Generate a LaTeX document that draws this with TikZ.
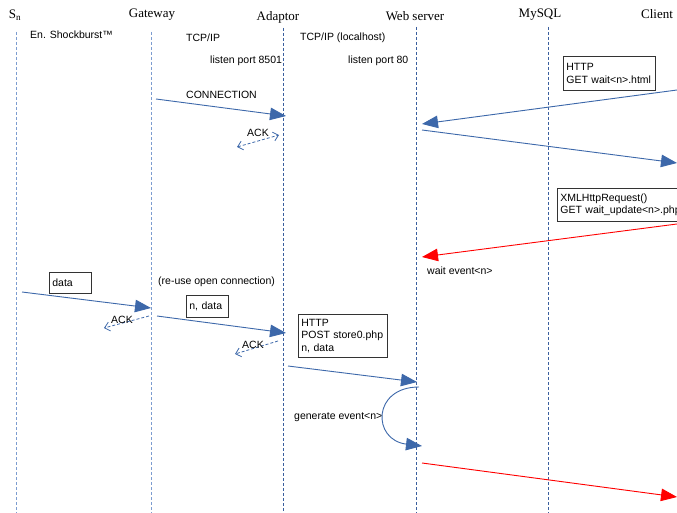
\documentclass[tikz,border=0pt]{standalone}
\usepackage{fontspec}
\setmainfont{Liberation Sans}
\newfontfamily\titlefont{Liberation Serif}
\usetikzlibrary{arrows.meta}
\definecolor{msgblue}{HTML}{3D68AA}
\definecolor{lifedark}{HTML}{3A5E9E}
\definecolor{lifelight}{HTML}{7C9CD0}
\definecolor{boxgray}{HTML}{333333}
\begin{document}
\begin{tikzpicture}[x=1pt,y=-1pt,
  title/.style={font=\titlefont\fontsize{13}{15}\selectfont, inner sep=0pt},
  lbl/.style={font=\fontsize{10.5}{12.5}\selectfont, inner sep=0pt, anchor=west},
  acklbl/.style={font=\fontsize{10.5}{12.5}\selectfont, inner sep=0pt},
  lifeline/.style={draw=lifedark, line width=0.8pt, dash pattern=on 3pt off 2pt},
  lifelinelt/.style={lifeline, draw=lifelight},
  msg/.style={draw=msgblue, line width=0.9pt, -{Triangle[length=16pt,width=12.5pt]}},
  redmsg/.style={msg, draw=red},
  ack/.style={draw=msgblue, line width=0.8pt, dash pattern=on 3pt off 2pt, -{Straight Barb[length=5pt,width=9pt]}},
  ackboth/.style={ack, {Straight Barb[length=5pt,width=9pt]}-{Straight Barb[length=5pt,width=9pt]}},
  msgbox/.style={draw=boxgray, line width=0.8pt, anchor=north west, align=left,
    font=\fontsize{10.5}{12.5}\selectfont, inner xsep=3pt, inner ysep=2pt}
]
\clip (0,0) rectangle (677,513);
\fill[white] (0,0) rectangle (677,513);

% titles
\node[title] (tS) at (15,15) {S\textsubscript{n}};
\node[title] (tGW) at (152,14.5) {Gateway};
\node[title] (tAD) at (278,17) {Adaptor};
\node[title] (tWS) at (415,16.5) {Web server};
\node[title] (tMY) at (540,14.5) {MySQL};
\node[title] (tCL) at (657,14.5) {Client};

% lifelines
\coordinate (sTop) at (16,32);   \coordinate (sBot) at (16,513);
\coordinate (gTop) at (151,32);  \coordinate (gBot) at (151,513);
\coordinate (aTop) at (283,28);  \coordinate (aBot) at (283,513);
\coordinate (wTop) at (416,27);  \coordinate (wBot) at (416,513);
\coordinate (mTop) at (548,27);  \coordinate (mBot) at (548,513);
\draw[lifelinelt] (sTop) -- (sBot);
\draw[lifelinelt] (gTop) -- (gBot);
\draw[lifeline] (aTop) -- (aBot);
\draw[lifeline] (wTop) -- (wBot);
\draw[lifeline] (mTop) -- (mBot);

% labels
\node[lbl] (shock) at (30,34.5) {En. Shockburst™};
\node[lbl] (tcp1) at (186,38) {TCP/IP};
\node[lbl] (tcp2) at (300,38) {TCP/IP (localhost)};
\node[lbl] (lp1) at (210,61) {listen port 8501};
\node[lbl] (lp2) at (348,61) {listen port 80};
\node[lbl] (conn) at (186,95) {CONNECTION};
\node[lbl] (wait) at (427,271) {wait event<n>};
\node[lbl] (reuse) at (158,282) {(re-use open connection)};
\node[lbl] (gen) at (294,417) {generate event<n>};

% boxes
\node[msgbox, minimum width=92pt, minimum height=34pt, text width=86pt] (bget) at (563,56) {HTTP\\GET wait<n>.html};
\node[msgbox, minimum width=150pt, minimum height=33pt, text width=144pt] (bxhr) at (557,188) {XMLHttpRequest()\\GET wait\_update<n>.php};
\node[msgbox, minimum width=42pt, minimum height=21pt, text width=36pt] (bdata) at (49,272) {data};
\node[msgbox, minimum width=42pt, minimum height=22pt, text width=36pt] (bndata) at (186,295) {n, data};
\node[msgbox, minimum width=89pt, minimum height=43pt, text width=83pt] (bpost) at (298,314) {HTTP\\POST store0.php\\n, data};

% message endpoints
\coordinate (c1a) at (156,99);  \coordinate (c1b) at (286,116);
\coordinate (c2a) at (677,90);  \coordinate (c2b) at (422,124);
\coordinate (c3a) at (422,130); \coordinate (c3b) at (677,163);
\coordinate (c4a) at (677,224); \coordinate (c4b) at (422,257);
\coordinate (c5a) at (22,292);  \coordinate (c5b) at (151,308);
\coordinate (c6a) at (157,316); \coordinate (c6b) at (286,333);
\coordinate (c7a) at (288,366); \coordinate (c7b) at (417,382);
\coordinate (c8a) at (419,387); \coordinate (c8b) at (422,446);
\coordinate (c9a) at (422,463); \coordinate (c9b) at (677,497);
\coordinate (k1a) at (279,135); \coordinate (k1b) at (237,147);
\coordinate (k2a) at (149,316); \coordinate (k2b) at (104,328);
\coordinate (k3a) at (278,341); \coordinate (k3b) at (235,354);

\draw[msg] (c1a) -- (c1b);
\draw[msg] (c2a) -- (c2b);
\draw[msg] (c3a) -- (c3b);
\draw[redmsg] (c4a) -- (c4b);
\draw[msg] (c5a) -- (c5b);
\draw[msg] (c6a) -- (c6b);
\draw[msg] (c7a) -- (c7b);
\draw[msg] (c8a) .. controls (372,387) and (372,440) .. (c8b);
\draw[redmsg] (c9a) -- (c9b);

% ACKs
\draw[ackboth] (k1b) -- (k1a);
\draw[ack] (k2a) -- (k2b);
\draw[ack] (k3a) -- (k3b);
\node[acklbl] (ack1) at (258,133) {ACK};
\node[acklbl] (ack2) at (122,320) {ACK};
\node[acklbl] (ack3) at (253,345) {ACK};
\end{tikzpicture}
\end{document}
